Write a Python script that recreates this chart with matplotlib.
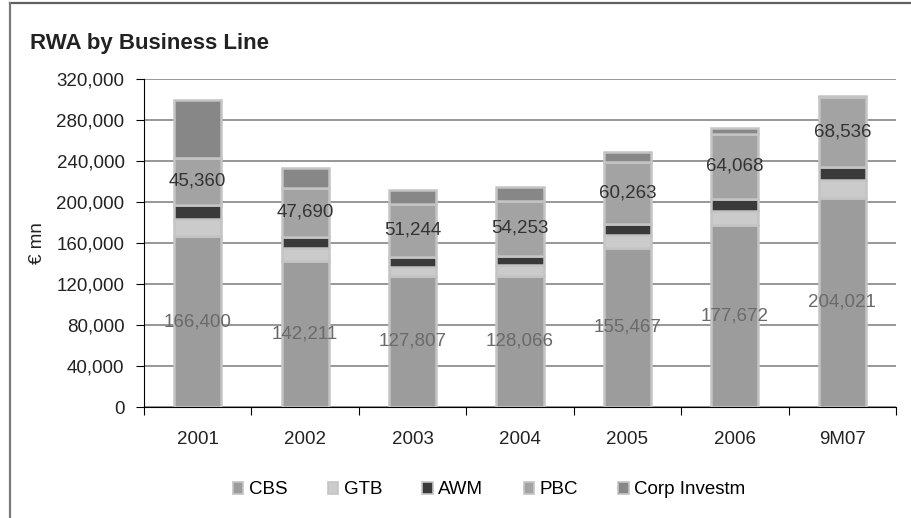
import matplotlib
matplotlib.use("Agg")
import matplotlib.pyplot as plt
from matplotlib.lines import Line2D
from matplotlib.patches import Patch
from matplotlib.ticker import FuncFormatter, FixedLocator, NullFormatter

categories = ["2001", "2002", "2003", "2004", "2005", "2006", "9M07"]
cbs = [166400, 142211, 127807, 128066, 155467, 177672, 204021]
gtb = [17000, 13000, 9000, 10000, 12000, 14000, 17000]
awm = [14000, 11000, 10000, 9000, 11000, 11000, 13000]
pbc = [45360, 47690, 51244, 54253, 60263, 64068, 68536]
corp = [57000, 19000, 14000, 13000, 10000, 5000, 1000]
series_names = ["CBS", "GTB", "AWM", "PBC", "Corp Investm"]
y_ticks = [0, 40000, 80000, 120000, 160000, 200000, 240000, 280000, 320000]

colors = ["#9c9c9c", "#cbcbcb", "#3a3a3a", "#a3a3a3", "#878787"]
edge = "#c4c4c4"

plt.rcParams['font.family'] = ['Liberation Sans', 'DejaVu Sans']
FS = 13.5

fig = plt.figure(figsize=(9.11, 5.18), dpi=100)
ax = fig.add_axes([144/911, 1-407/518, (896-144)/911, (407-79)/518])

x = list(range(len(categories)))
bottom = [0]*len(categories)
series = [cbs, gtb, awm, pbc, corp]
for vals, c, name in zip(series, colors, series_names):
    ax.bar(x, vals, width=0.44, bottom=bottom, color=c, edgecolor=edge,
           linewidth=1.8, zorder=3, label=name)
    bottom = [b + v for b, v in zip(bottom, vals)]

# data labels
for i in x:
    ax.text(i, cbs[i]/2, f"{cbs[i]:,}", ha="center", va="center",
            fontsize=FS, color="#6a6a6a", zorder=5)
    pb = cbs[i] + gtb[i] + awm[i]
    ax.text(i, pb + pbc[i]/2, f"{pbc[i]:,}", ha="center", va="center",
            fontsize=FS, color="#333333", zorder=5)

ax.set_xlim(-0.5, len(categories)-0.5)
ax.set_ylim(0, 320000)
ax.set_yticks(y_ticks)
ax.yaxis.set_major_formatter(FuncFormatter(lambda v, p: f"{int(v):,}"))
ax.yaxis.grid(True, color="#7a7a7a", linewidth=1.1, zorder=0)
ax.set_axisbelow(True)

ax.xaxis.set_major_locator(FixedLocator([i + 0.5 for i in range(-1, len(categories))]))
ax.xaxis.set_major_formatter(NullFormatter())
ax.xaxis.set_minor_locator(FixedLocator(x))
ax.set_xticks(x, categories, minor=True)
ax.tick_params(axis="x", which="minor", length=0, pad=17, labelsize=FS, labelcolor="#222222")
ax.tick_params(axis="x", which="major", length=6, direction="out", color="#000000")
ax.tick_params(axis="y", length=6, pad=8, labelsize=FS, labelcolor="#222222")

for s in ["top", "right"]:
    ax.spines[s].set_visible(False)
ax.spines["left"].set_color("#000000")
ax.spines["bottom"].set_color("#000000")

ax.set_ylabel("€ mn", fontsize=FS, color="#222222")
ax.yaxis.set_label_coords(-0.13, 0.5)

fig.text(30/911, 1-43/518, "RWA by Business Line", fontsize=16, fontweight="bold",
         color="#222222", ha="left", va="center")

handles = [Patch(facecolor=c, edgecolor=edge, linewidth=1.2) for c in colors]
fig.legend(handles, series_names, loc="center", bbox_to_anchor=(0.537, 1-490/518),
           ncol=5, frameon=False, fontsize=FS, handlelength=0.55, handleheight=0.55,
           handletextpad=0.3, columnspacing=2.15)

# outer frame lines (top and left only)
fig.add_artist(Line2D([9.5/911, 1.0], [1-3/518, 1-3/518], transform=fig.transFigure,
                      color="#606060", linewidth=1.6))
fig.add_artist(Line2D([9.5/911, 9.5/911], [0, 1-3/518], transform=fig.transFigure,
                      color="#7a7a7a", linewidth=1.6))

fig.savefig("out.png", dpi=100)
